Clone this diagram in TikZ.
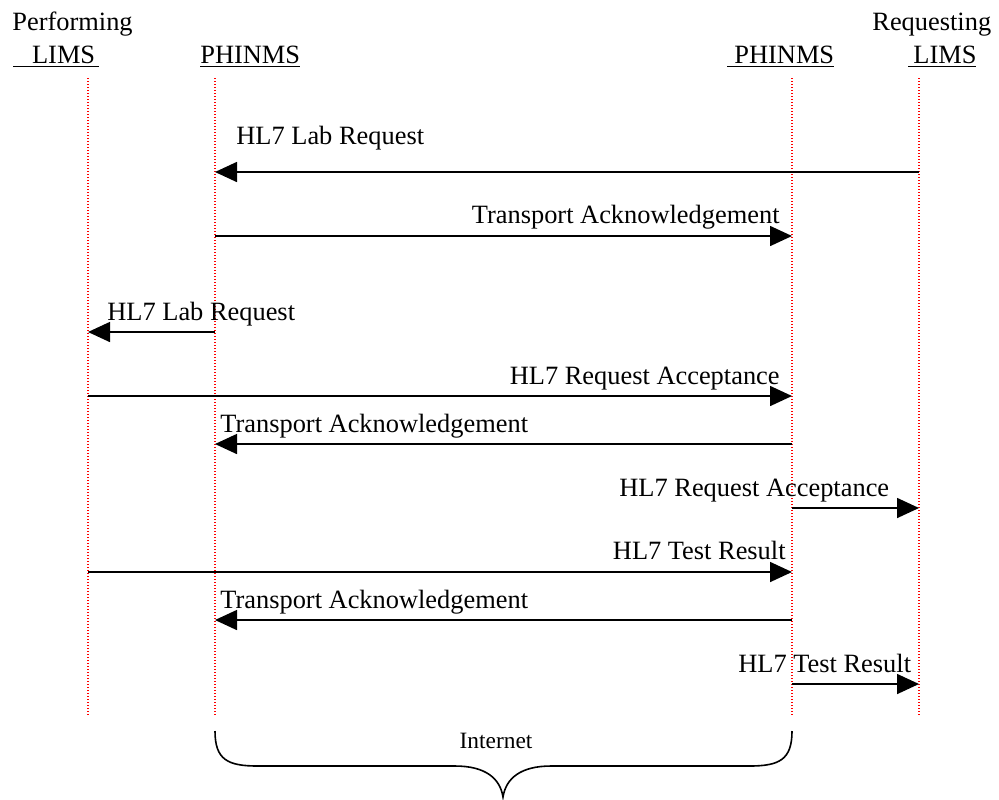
\documentclass[tikz,border=0pt]{standalone}
\usepackage{fontspec}
\setmainfont{Liberation Serif}
\usetikzlibrary{arrows.meta}
\begin{document}
\begin{tikzpicture}[x=0.5pt,y=-0.5pt,
    lifeline/.style={red,line width=0.6pt,dash pattern=on 0.6pt off 0.9pt},
    msg/.style={line width=0.8pt,-{Triangle[length=11pt,width=10pt]}},
    lbl/.style={font=\fontsize{13.2}{16}\selectfont,inner sep=0pt},
    hdr/.style={font=\fontsize{13.2}{16}\selectfont,inner sep=0pt,anchor=base west}]
    \useasboundingbox (0,0) rectangle (999,799);
    % header
    \node[hdr] (perf) at (12,30) {Performing};
    \node[hdr] (plims) at (12.7,63) {\underline{\hspace{9.5pt}LIMS\hspace{2pt}}};
    \node[hdr] (pphin) at (200,63) {\underline{PHINMS}};
    \node[hdr] (rphin) at (727,63) {\underline{\hspace{3.5pt}PHINMS}};
    \node[hdr] (req) at (872,30) {Requesting};
    \node[hdr] (rlims) at (908,63) {\underline{\hspace{2.5pt}LIMS}};
    % lifelines
    \foreach \n/\x in {pl/88,pp/215,rp/792,rl/919}{
        \coordinate (\n) at (\x,78);
        \coordinate (\n-end) at (\x,715);
        \draw[lifeline] (\n) -- (\n-end);
    }
    % message rows
    \foreach \i/\y in {1/172,2/236,3/332,4/396,5/444,6/508,7/572,8/620,9/684}
        \coordinate (m\i) at (0,\y);
    \draw[msg] (rl |- m1) -- (pp |- m1);
    \draw[msg] (pp |- m2) -- (rp |- m2);
    \draw[msg] (pp |- m3) -- (pl |- m3);
    \draw[msg] (pl |- m4) -- (rp |- m4);
    \draw[msg] (rp |- m5) -- (pp |- m5);
    \draw[msg] (rp |- m6) -- (rl |- m6);
    \draw[msg] (pl |- m7) -- (rp |- m7);
    \draw[msg] (rp |- m8) -- (pp |- m8);
    \draw[msg] (rp |- m9) -- (rl |- m9);
    \node[lbl,anchor=base west] (t1) at (236,144) {HL7 Lab Request};
    \node[lbl,anchor=base east] (t2) at (780,223) {Transport Acknowledgement};
    \node[lbl,anchor=base west] (t3) at (107,320) {HL7 Lab Request};
    \node[lbl,anchor=base east] (t4) at (780,384) {HL7 Request Acceptance};
    \node[lbl,anchor=base west] (t5) at (220,432) {Transport Acknowledgement};
    \node[lbl,anchor=base west] (t6) at (619,496) {HL7 Request Acceptance};
    \node[lbl,anchor=base east] (t7) at (786,559) {HL7 Test Result};
    \node[lbl,anchor=base west] (t8) at (220,608) {Transport Acknowledgement};
    \node[lbl,anchor=base west] (t9) at (738,672) {HL7 Test Result};
    % internet brace
    \draw[line width=0.8pt] (pp |- 0,731) .. controls (215,760) and (228,766) .. (258,766)
        -- (455,766) .. controls (485,766) and (500,778) .. (503,797)
        .. controls (506,778) and (521,766) .. (551,766)
        -- (749,766) .. controls (779,766) and (792,760) .. (rp |- 0,731);
    \node[font=\fontsize{11.7}{14}\selectfont,inner sep=0pt] (inet) at (496,741) {Internet};
\end{tikzpicture}
\end{document}
